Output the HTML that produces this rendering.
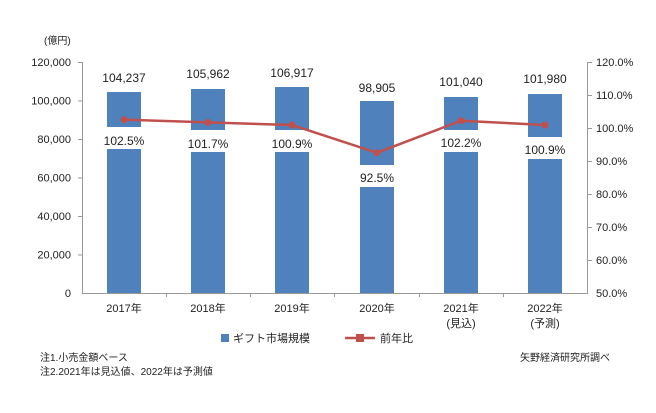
<!DOCTYPE html>
<html><head><meta charset="utf-8"><style>
body{margin:0;background:#fff}
svg text{font-family:"Liberation Sans","Noto Sans CJK JP",sans-serif;fill:#222}
</style></head><body>
<svg width="656" height="408" xmlns="http://www.w3.org/2000/svg">
<rect width="656" height="408" fill="#fff"/>
<text x="44" y="44" font-size="10">(億円)</text>
<g font-size="11" text-anchor="end">
<text x="71" y="66">120,000</text><text x="71" y="104.5">100,000</text><text x="71" y="143">80,000</text>
<text x="71" y="181.5">60,000</text><text x="71" y="220">40,000</text><text x="71" y="258.5">20,000</text><text x="71" y="297">0</text>
</g>
<g font-size="11">
<text x="596" y="66">120.0%</text><text x="596" y="99">110.0%</text><text x="596" y="132">100.0%</text>
<text x="596" y="165">90.0%</text><text x="596" y="198">80.0%</text><text x="596" y="231">70.0%</text>
<text x="596" y="264">60.0%</text><text x="596" y="297">50.0%</text>
</g>
<g stroke="#999" stroke-width="1">
<line x1="82.5" y1="62" x2="82.5" y2="293"/>
<line x1="587.5" y1="62" x2="587.5" y2="293"/>
<line x1="82" y1="293.5" x2="588" y2="293.5"/>
<g>
<line x1="78" y1="62.5" x2="82" y2="62.5"/><line x1="78" y1="101" x2="82" y2="101"/><line x1="78" y1="139.5" x2="82" y2="139.5"/>
<line x1="78" y1="178" x2="82" y2="178"/><line x1="78" y1="216.5" x2="82" y2="216.5"/><line x1="78" y1="255" x2="82" y2="255"/>
<line x1="588" y1="62.5" x2="592" y2="62.5"/><line x1="588" y1="95.5" x2="592" y2="95.5"/><line x1="588" y1="128.5" x2="592" y2="128.5"/>
<line x1="588" y1="161.5" x2="592" y2="161.5"/><line x1="588" y1="194.5" x2="592" y2="194.5"/><line x1="588" y1="227.5" x2="592" y2="227.5"/><line x1="588" y1="260.5" x2="592" y2="260.5"/>
<line x1="166.5" y1="293" x2="166.5" y2="297"/><line x1="250.5" y1="293" x2="250.5" y2="297"/><line x1="334.5" y1="293" x2="334.5" y2="297"/>
<line x1="419.5" y1="293" x2="419.5" y2="297"/><line x1="503.5" y1="293" x2="503.5" y2="297"/>
</g></g>
<g fill="#4f81bd">
<rect x="107" y="92" width="34" height="201"/>
<rect x="191" y="89" width="34" height="204"/>
<rect x="275" y="87" width="34" height="206"/>
<rect x="360" y="101" width="34" height="192"/>
<rect x="444" y="97" width="34" height="196"/>
<rect x="528" y="94" width="34" height="199"/>
</g>
<g fill="#fff">
<rect x="100" y="127" width="48" height="22"/>
<rect x="184" y="130" width="48" height="22"/>
<rect x="268" y="130" width="48" height="22"/>
<rect x="353" y="165" width="48" height="22"/>
<rect x="437" y="130" width="48" height="22"/>
<rect x="521" y="137" width="48" height="22"/>
</g>
<g font-size="12" text-anchor="middle">
<text x="124" y="82">104,237</text><text x="208" y="78">105,962</text><text x="292" y="77">106,917</text>
<text x="377" y="92">98,905</text><text x="461" y="86">101,040</text><text x="545" y="83">101,980</text>
<text x="124" y="145">102.5%</text><text x="208" y="148">101.7%</text><text x="292" y="148">100.9%</text>
<text x="377" y="182">92.5%</text><text x="461" y="147">102.2%</text><text x="545" y="154">100.9%</text>
</g>
<polyline points="124,119.7 208,122.4 292,125 377,152.8 461,120.7 545,125" fill="none" stroke="#c0504d" stroke-width="2.5"/>
<g fill="#c0504d">
<circle cx="124" cy="119.7" r="3.5"/><circle cx="208" cy="122.4" r="3.5"/><circle cx="292" cy="125" r="3.5"/>
<circle cx="377" cy="152.8" r="3.5"/><circle cx="461" cy="120.7" r="3.5"/><circle cx="545" cy="125" r="3.5"/>
</g>
<g font-size="11" text-anchor="middle">
<text x="124" y="312">2017年</text><text x="208" y="312">2018年</text><text x="292" y="312">2019年</text>
<text x="377" y="312">2020年</text><text x="461" y="312">2021年</text><text x="545" y="312">2022年</text>
<text x="461" y="327">(見込)</text><text x="545" y="327">(予測)</text>
</g>
<rect x="221" y="334" width="8" height="8" fill="#4f81bd"/>
<text x="233" y="342" font-size="11">ギフト市場規模</text>
<line x1="345" y1="338" x2="375" y2="338" stroke="#c0504d" stroke-width="2.5"/>
<rect x="356" y="334" width="8" height="8" fill="#c0504d"/>
<text x="380" y="342" font-size="11">前年比</text>
<text x="40" y="361" font-size="10">注1.小売金額ベース</text>
<text x="40" y="375" font-size="10">注2.2021年は見込値、2022年は予測値</text>
<text x="520" y="361" font-size="10">矢野経済研究所調べ</text>
</svg>
</body></html>
